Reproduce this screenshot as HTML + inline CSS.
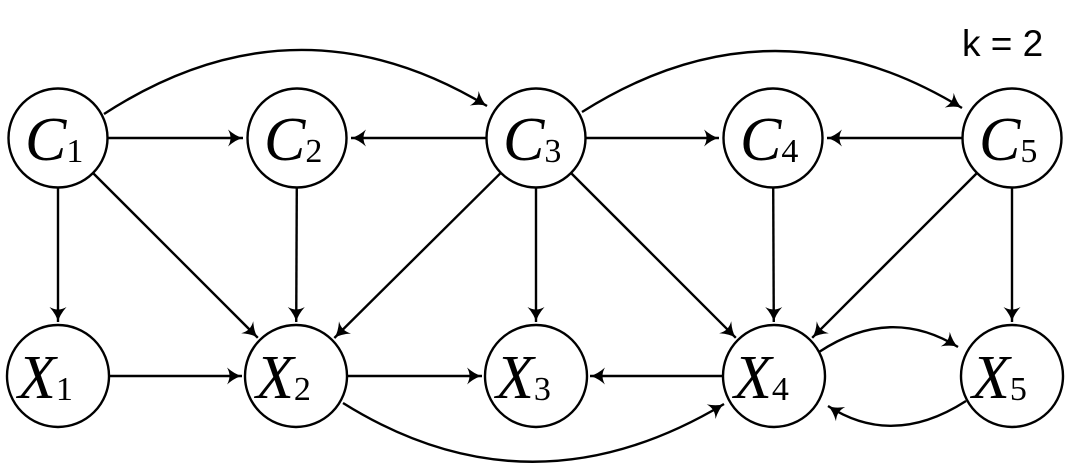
<!DOCTYPE html>
<html><head><meta charset="utf-8"><style>
html,body{margin:0;padding:0;background:#fff;}
svg{display:block}
.lab{font-family:"Liberation Serif",serif;font-style:italic;font-size:62px;}
.sub{font-family:"Liberation Serif",serif;font-style:normal;font-size:34px;}
</style></head><body>
<svg id="s" width="1080" height="474" viewBox="0 0 1080 474" xmlns="http://www.w3.org/2000/svg">
<defs><marker id="a" markerUnits="userSpaceOnUse" markerWidth="24" markerHeight="24" refX="0" refY="0" viewBox="-18 -12 24 24" orient="auto">
<path d="M-15,-8.5 Q-7,-1.5 0,0 Q-7,1.5 -15,8.5 Q-10,0 -15,-8.5 z" fill="#000"/></marker></defs>
<g id="e" stroke="#000" stroke-width="2.4" fill="none">
<path d="M104,114 Q295,-10 487,106" marker-end="url(#a)"/>
<path d="M582,112 Q772,-8 962,108" marker-end="url(#a)"/>
<path d="M819,352 Q890,305 958,347" marker-end="url(#a)"/>
<path d="M966,401 Q893,448 828,406" marker-end="url(#a)"/>
<path d="M343,403 Q530,520 724,404" marker-end="url(#a)"/>
</g>
<g id="n" stroke="#000" stroke-width="2.4" fill="#fff"></g>
<text x="962" y="56" font-family="Liberation Sans,sans-serif" font-size="37">k = 2</text>
</svg>
<script>
var N={C1:[58,138],C2:[297,138],C3:[536,138],C4:[773,138],C5:[1012,138],X1:[58,376],X2:[296,376],X3:[536,376],X4:[774,376],X5:[1012,376]};
var E=[["C1","C2"],["C3","C2"],["C3","C4"],["C5","C4"],["C1","X1"],["C1","X2"],["C2","X2"],["C3","X2"],["C3","X3"],["C3","X4"],["C4","X4"],["C5","X4"],["C5","X5"],["X1","X2"],["X2","X3"],["X4","X3"]];
var ns="http://www.w3.org/2000/svg",g=document.getElementById("e"),n=document.getElementById("n"),s=document.getElementById("s");
E.forEach(function(p){var a=N[p[0]],b=N[p[1]],dx=b[0]-a[0],dy=b[1]-a[1],L=Math.hypot(dx,dy),ux=dx/L,uy=dy/L;
var l=document.createElementNS(ns,"line");l.setAttribute("x1",a[0]+ux*50);l.setAttribute("y1",a[1]+uy*50);l.setAttribute("x2",b[0]-ux*54);l.setAttribute("y2",b[1]-uy*54);l.setAttribute("marker-end","url(#a)");g.appendChild(l);});
for(var k in N){var c=document.createElementNS(ns,"circle"),p=N[k];c.setAttribute("cx",p[0]);c.setAttribute("cy",p[1]);c.setAttribute("r",k[0]=="X"?51:49.5);n.appendChild(c);
var t=document.createElementNS(ns,"text");t.setAttribute("x",p[0]-(k[0]=="X"?40:33));t.setAttribute("y",p[1]+22);t.setAttribute("class","lab");t.textContent=k[0];
var u=document.createElementNS(ns,"tspan");u.setAttribute("class","sub");u.setAttribute("dy","2");u.setAttribute("dx","0");u.textContent=k[1];t.appendChild(u);s.appendChild(t);}
</script>
</body></html>
